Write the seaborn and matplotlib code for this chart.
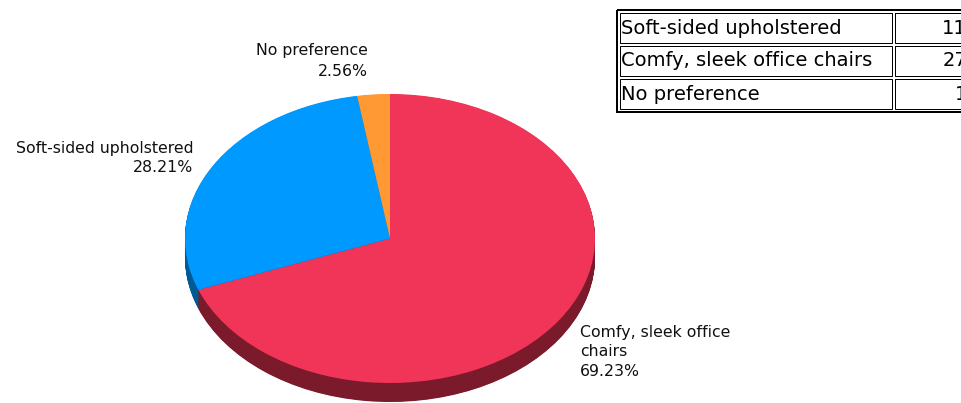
import numpy as np
import seaborn as sns
import matplotlib.pyplot as plt
from matplotlib.patches import Rectangle

# survey answers
categories = ['Soft-sided upholstered', 'Comfy, sleek office chairs', 'No preference']
counts = [11, 27, 1]
pie_order = ['Comfy, sleek office chairs', 'Soft-sided upholstered', 'No preference']
pie_labels = [['Comfy, sleek office', 'chairs'], ['Soft-sided upholstered'], ['No preference']]
top_colors = ['#F03558', '#0099FF', '#FF9933']
side_colors = ['#7A1A2A', '#005A94', '#99591F']

sns.set_theme(style='white')
plt.rcParams['font.family'] = ['DejaVu Sans']

W, H = 961, 403
fig = plt.figure(figsize=(W / 100, H / 100), dpi=100)

# pie axes: y stretched so the circle looks like a tilted ellipse
cx, cy, rx, ry, depth = 390, 238.5, 205, 144.5, 19
k = rx / ry
ax = fig.add_axes([0, 0, 1, 1])
vals = [counts[categories.index(c)] for c in pie_order]
total = sum(vals)

for d in np.arange(depth, 0, -0.5):
    ax.pie(vals, colors=side_colors, startangle=90, counterclock=False,
           radius=rx, center=(cx, -(cy + d) * k),
           wedgeprops=dict(linewidth=0, antialiased=True))
ax.pie(vals, colors=top_colors, startangle=90, counterclock=False,
       radius=rx, center=(cx, -cy * k),
       wedgeprops=dict(linewidth=0, antialiased=True))
ax.set_aspect('auto')
ax.set_xlim(0, W)
ax.set_ylim(-H * k, 0)
ax.axis('off')

# overlay in pixel coordinates for labels and table
tax = fig.add_axes([0, 0, 1, 1], facecolor='none')
tax.set_xlim(0, W)
tax.set_ylim(H, 0)
tax.axis('off')

pct = [v / total * 100 for v in vals]
lab_fs = 11.3
lab_col = '#111111'
# Comfy label (left aligned)
tax.text(580, 332, pie_labels[0][0], fontsize=lab_fs, ha='left', va='center', color=lab_col)
tax.text(580, 352, pie_labels[0][1], fontsize=lab_fs, ha='left', va='center', color=lab_col)
tax.text(580, 372, f'{pct[0]:.2f}%', fontsize=lab_fs, ha='left', va='center', color=lab_col)
# Soft-sided label (right aligned)
tax.text(193, 148, pie_labels[1][0], fontsize=lab_fs, ha='right', va='center', color=lab_col)
tax.text(193, 168, f'{pct[1]:.2f}%', fontsize=lab_fs, ha='right', va='center', color=lab_col)
# No preference label
tax.text(368, 51, pie_labels[2][0], fontsize=lab_fs, ha='right', va='center', color=lab_col)
tax.text(368, 71, f'{pct[2]:.2f}%', fontsize=lab_fs, ha='right', va='center', color=lab_col)

# data table, clipped at the right edge
px = 0.72
tax.add_patch(Rectangle((617, 10), 400, 102, fill=False, edgecolor='black', linewidth=2 * px))
row_tops = [13, 46, 79]
for i, (name, n) in enumerate(zip(categories, counts)):
    y0 = row_tops[i]
    tax.add_patch(Rectangle((620, y0), 272, 30, fill=False, edgecolor='black', linewidth=px))
    tax.add_patch(Rectangle((895, y0), 120, 30, fill=False, edgecolor='black', linewidth=px))
    tax.text(621, y0 + 15, name, fontsize=14, ha='left', va='center', color='black')
    tax.text(967, y0 + 15, str(n), fontsize=14, ha='right', va='center', color='black')

fig.savefig('out.png', dpi=100)
